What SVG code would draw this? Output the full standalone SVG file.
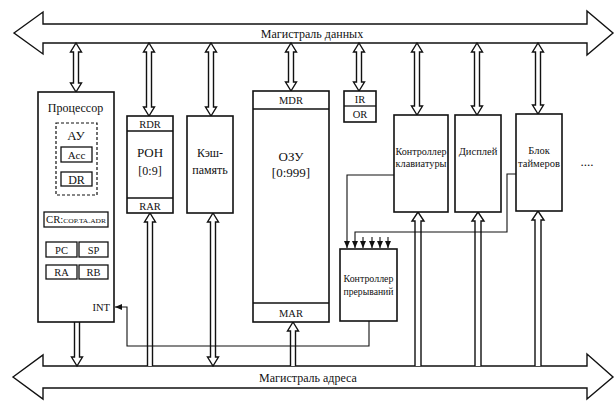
<svg xmlns="http://www.w3.org/2000/svg" width="615" height="401" viewBox="0 0 615 401" font-family="'Liberation Serif', 'Times New Roman', serif">
<defs>
<style>
.b{fill:#fff;stroke:#111;stroke-width:1.6}
.r{fill:none;stroke:#111;stroke-width:1.3}
.d{fill:none;stroke:#111;stroke-width:1.2;stroke-dasharray:3,2}
.ha{fill:#fff;stroke:#111;stroke-width:1.4;stroke-linejoin:miter}
.w{fill:none;stroke:#111;stroke-width:1.1}
text{font-family:'Liberation Serif','Times New Roman',serif;fill:#111;text-anchor:middle}
.t13{font-size:13px}
.t12{font-size:12px}
.t11{font-size:11px}
.t10{font-size:10.5px}
.t9{font-size:9.5px}
</style>
<marker id="ah" markerWidth="8" markerHeight="8" refX="7" refY="4" orient="auto" markerUnits="userSpaceOnUse">
<path d="M0,1 L7,4 L0,7 Z" fill="#111"/>
</marker>
</defs>
<rect width="615" height="401" fill="#fff"/>

<g id="data-bus">
<polygon class="ha" points="14,33 43,12 43,24 587,24 587,11 613,33 587,55 587,43 43,43 43,54"/>
<text class="t12" x="312" y="37.5">Магистраль данных</text>
</g>
<g id="address-bus">
<polygon class="ha" points="13,377 43,355 43,366 587,366 587,354 613,377 587,399 587,388 43,388 43,399"/>
<text class="t12" x="308" y="381.5">Магистраль адреса</text>
</g>

<g id="connectors">
<polygon class="ha" points="76,43 81.5,52 78.5,52 78.5,83 81.5,83 76,92 70.5,83 73.5,83 73.5,52 70.5,52"/>
<polygon class="ha" points="149,43 154.5,52 151.5,52 151.5,107 154.5,107 149,116 143.5,107 146.5,107 146.5,52 143.5,52"/>
<polygon class="ha" points="211,43 216.5,52 213.5,52 213.5,107 216.5,107 211,116 205.5,107 208.5,107 208.5,52 205.5,52"/>
<polygon class="ha" points="291,43 296.5,52 293.5,52 293.5,82 296.5,82 291,91 285.5,82 288.5,82 288.5,52 285.5,52"/>
<polygon class="ha" points="359,43 364.5,52 361.5,52 361.5,82 364.5,82 359,91 353.5,82 356.5,82 356.5,52 353.5,52"/>
<polygon class="ha" points="417,43 422.5,52 419.5,52 419.5,106 422.5,106 417,115 411.5,106 414.5,106 414.5,52 411.5,52"/>
<polygon class="ha" points="477,43 482.5,52 479.5,52 479.5,106 482.5,106 477,115 471.5,106 474.5,106 474.5,52 471.5,52"/>
<polygon class="ha" points="538,43 543.5,52 540.5,52 540.5,105 543.5,105 538,114 532.5,105 535.5,105 535.5,52 532.5,52"/>
<polyline class="ha" points="74.5,322 74.5,357 71.5,357 77,366 82.5,357 79.5,357 79.5,322"/>
<polyline class="ha" points="147.5,366 147.5,222 144.5,222 150,213 155.5,222 152.5,222 152.5,366"/>
<polygon class="ha" points="213,213 218.5,222 215.5,222 215.5,357 218.5,357 213,366 207.5,357 210.5,357 210.5,222 207.5,222"/>
<polyline class="ha" points="290.5,366 290.5,331 287.5,331 293,322 298.5,331 295.5,331 295.5,366"/>
<polyline class="ha" points="415,366 415,221 412,221 418,212 424,221 421,221 421,366"/>
<polyline class="ha" points="475,366 475,221 472,221 478,212 484,221 481,221 481,366"/>
<polyline class="ha" points="535,366 535,220 532,220 538,211 544,220 541,220 541,366"/>
<polyline class="w" points="394,175 347,175 347,248" marker-end="url(#ah)"/>
<polyline class="w" points="516,174 507,174 507,232 355,232 355,248" marker-end="url(#ah)"/>
<line class="w" x1="363" y1="237" x2="363" y2="248" marker-end="url(#ah)"/>
<line class="w" x1="372" y1="237" x2="372" y2="248" marker-end="url(#ah)"/>
<line class="w" x1="380" y1="237" x2="380" y2="248" marker-end="url(#ah)"/>
<line class="w" x1="388" y1="237" x2="388" y2="248" marker-end="url(#ah)"/>
<polyline class="w" points="369,321 369,346 127,346 127,307 115,307" marker-end="url(#ah)"/>
</g>

<g id="processor">
<rect class="b" x="38" y="92" width="76" height="230"/>
<text class="t12" x="75.5" y="112">Процессор</text>
<rect class="d" x="56" y="123" width="41" height="72"/>
<text class="t13" x="76" y="140">АУ</text>
<rect class="r" x="61" y="147" width="31" height="15"/>
<text class="t11" x="76.5" y="158.5">Acc</text>
<rect class="r" x="61" y="172" width="31" height="14"/>
<text class="t12" x="76.5" y="183.5">DR</text>
<rect class="r" x="44" y="212" width="64" height="15"/>
<text x="76" y="223" style="font-size:7px" textLength="60" lengthAdjust="spacingAndGlyphs"><tspan style="font-size:10px">CR:</tspan>COP.TA.ADR</text>
<rect class="r" x="46" y="242" width="31" height="15"/>
<text class="t10" x="61.5" y="253.5">PC</text>
<rect class="r" x="79" y="242" width="29" height="15"/>
<text class="t10" x="93.5" y="253.5">SP</text>
<rect class="r" x="46" y="265" width="31" height="14"/>
<text class="t10" x="61.5" y="276">RA</text>
<rect class="r" x="79" y="265" width="29" height="14"/>
<text class="t10" x="93.5" y="276">RB</text>
<text class="t10" x="110" y="310.5" style="text-anchor:end">INT</text>
</g>

<g id="ron">
<rect class="b" x="127" y="116" width="46" height="97"/>
<line class="r" x1="127" y1="131" x2="173" y2="131"/>
<line class="r" x1="127" y1="198" x2="173" y2="198"/>
<text class="t10" x="150" y="127.5">RDR</text>
<text class="t13" x="150" y="157">РОН</text>
<text class="t12" x="150" y="175">[0:9]</text>
<text class="t10" x="150" y="209.5">RAR</text>
</g>

<g id="cache">
<rect class="b" x="187" y="116" width="46" height="97"/>
<text class="t12" x="210" y="157">Кэш-</text>
<text class="t12" x="210" y="174">память</text>
</g>

<g id="ram">
<rect class="b" x="253" y="91" width="76" height="231"/>
<line class="r" x1="253" y1="109" x2="329" y2="109"/>
<line class="r" x1="253" y1="303" x2="329" y2="303"/>
<text class="t10" x="291" y="104">MDR</text>
<text class="t13" x="291" y="161">ОЗУ</text>
<text class="t13" x="291" y="177">[0:999]</text>
<text class="t10" x="291" y="316.5">MAR</text>
</g>

<g id="io-regs">
<rect class="b" x="344" y="91" width="32" height="31"/>
<line class="r" x1="344" y1="106" x2="376" y2="106"/>
<text class="t10" x="360" y="102.5">IR</text>
<text class="t10" x="360" y="118">OR</text>
</g>

<g id="keyboard">
<rect class="b" x="394" y="115" width="54" height="97"/>
<text class="t10" x="421" y="155" textLength="51" lengthAdjust="spacingAndGlyphs">Контроллер</text>
<text class="t10" x="421" y="167" textLength="51" lengthAdjust="spacingAndGlyphs">клавиатуры</text>
</g>

<g id="display">
<rect class="b" x="455" y="115" width="46" height="97"/>
<text class="t10" x="478" y="155">Дисплей</text>
</g>

<g id="timers">
<rect class="b" x="516" y="114" width="46" height="97"/>
<text class="t10" x="539" y="154">Блок</text>
<text class="t10" x="539" y="167">таймеров</text>
</g>

<g id="more">
<text class="t13" x="587" y="166">....</text>
</g>

<g id="irq-controller">
<rect class="b" x="340" y="249" width="57" height="72"/>
<text class="t9" x="368.5" y="282" textLength="50" lengthAdjust="spacingAndGlyphs">Контроллер</text>
<text class="t9" x="368.5" y="295" textLength="50" lengthAdjust="spacingAndGlyphs">прерываний</text>
</g>
</svg>
